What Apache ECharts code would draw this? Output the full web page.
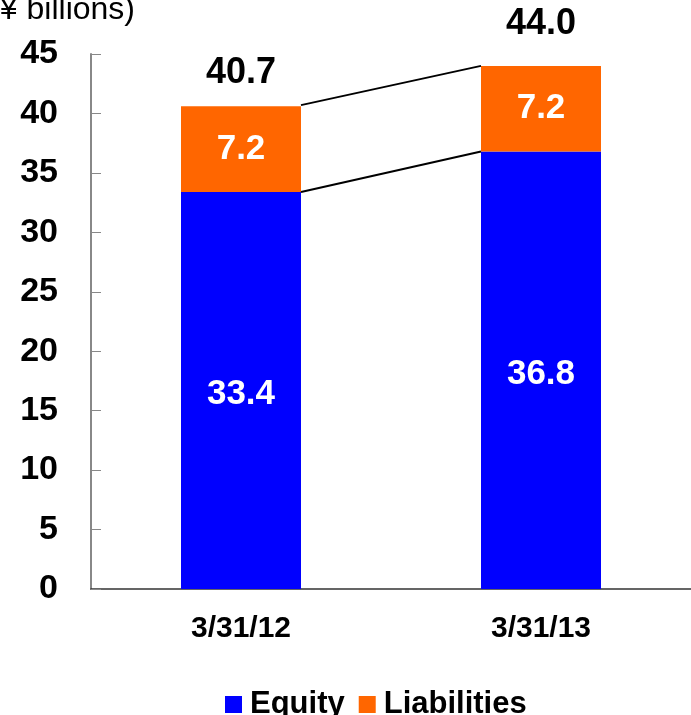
<!DOCTYPE html>
<html>
<head>
<meta charset="utf-8">
<script src="https://cdn.jsdelivr.net/npm/echarts@6/dist/echarts.min.js"></script>
<style>
  html, body { margin: 0; padding: 0; background: #fff; }
  #chart { width: 691px; height: 715px; }
</style>
</head>
<body>
<div id="chart"></div>
<script>
const categories = ['3/31/12', '3/31/13']
const equity = [33.4, 36.8]
const liabilities = [7.2, 7.2]
const totals = [40.7, 44.0]
const yTicks = { min: 0, max: 45, interval: 5 }

const font = 'Liberation Sans, Arial, sans-serif'
const BLUE = '#0000ff'
const ORANGE = '#ff6600'
const BAR_RATIO = 0.4

const chart = echarts.init(document.getElementById('chart'))

// connector lines from the right edge of one bar to the left edge of the next
function renderConnectors(params, api) {
  if (params.dataIndex !== 0) return
  const half = api.size([1, 0])[0] * BAR_RATIO / 2
  const seg = (vals) => {
    const a = api.coord([0, vals[0]])
    const b = api.coord([1, vals[1]])
    return {
      type: 'line',
      shape: { x1: a[0] + half, y1: a[1], x2: b[0] - half, y2: b[1] },
      style: { stroke: '#000', lineWidth: 2 }
    }
  }
  return { type: 'group', children: [seg(totals), seg(equity)] }
}

chart.setOption({
  animation: false,
  textStyle: { fontFamily: font },
  grid: { left: 91, right: 0, top: 54, bottom: 126 },
  graphic: [{
    type: 'text',
    right: 556,
    top: -6,
    style: { text: '(¥ billions)', font: '32px ' + font, fill: '#000' }
  }],
  legend: {
    data: ['Equity', 'Liabilities'],
    left: 220,
    top: 684,
    icon: 'rect',
    itemWidth: 17,
    itemHeight: 17,
    itemGap: 14,
    textStyle: { fontSize: 31, fontWeight: 'bold', color: '#000', fontFamily: font, padding: [0, 0, 0, 3] }
  },
  xAxis: {
    type: 'category',
    data: categories,
    axisLine: { lineStyle: { color: '#333', width: 1.5 } },
    axisTick: { inside: true, length: 10, lineStyle: { color: '#333' } },
    axisLabel: { fontSize: 30, fontWeight: 'bold', color: '#000', margin: 25 }
  },
  yAxis: {
    type: 'value',
    min: yTicks.min,
    max: yTicks.max,
    interval: yTicks.interval,
    axisLine: { show: true, lineStyle: { color: '#888', width: 2 } },
    axisTick: { show: true, inside: true, length: 10, lineStyle: { color: '#888' } },
    axisLabel: { fontSize: 34, fontWeight: 'bold', color: '#000', margin: 33 },
    splitLine: { show: false }
  },
  series: [
    {
      name: 'Equity',
      type: 'bar',
      stack: 'a',
      barWidth: BAR_RATIO * 100 + '%',
      barGap: '-100%',
      data: equity,
      itemStyle: { color: BLUE },
      label: { show: true, position: 'inside', offset: [0, 4], color: '#fff', fontSize: 35, fontWeight: 'bold' }
    },
    {
      name: 'Liabilities',
      type: 'bar',
      stack: 'a',
      barWidth: BAR_RATIO * 100 + '%',
      data: liabilities,
      itemStyle: { color: ORANGE },
      label: { show: true, position: 'inside', color: '#fff', fontSize: 35, fontWeight: 'bold' }
    },
    {
      name: 'Total',
      type: 'bar',
      barWidth: BAR_RATIO * 100 + '%',
      silent: true,
      z: 1,
      itemStyle: { color: 'rgba(0,0,0,0)' },
      data: totals.map((v, i) => ({ value: v, label: { distance: i ? 24 : 14 } })),
      label: {
        show: true, position: 'top', color: '#000', fontSize: 36, fontWeight: 'bold',
        formatter: (p) => p.value.toFixed(1)
      }
    },
    {
      type: 'custom',
      silent: true,
      z: 5,
      data: categories.map((c, i) => [i, totals[i]]),
      renderItem: renderConnectors
    }
  ]
})
</script>
</body>
</html>
